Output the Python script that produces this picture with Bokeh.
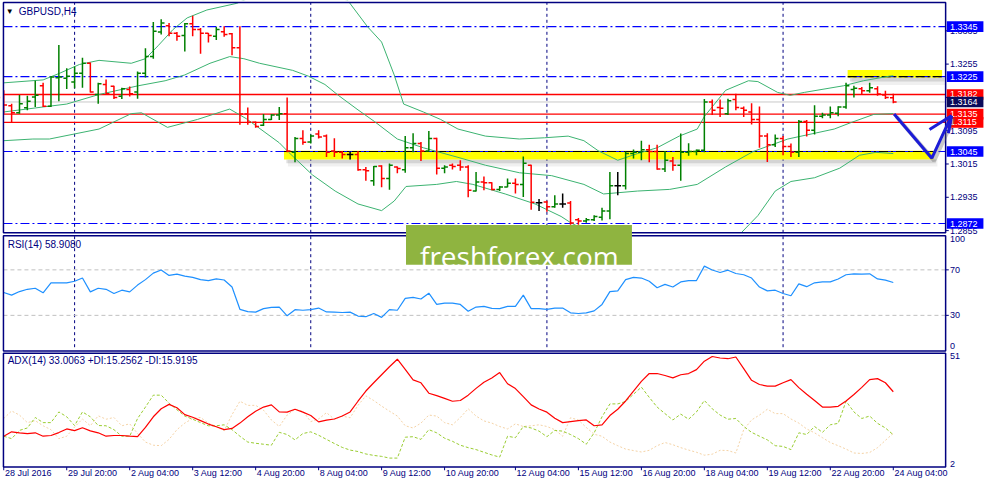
from bokeh.plotting import figure
from bokeh.models import Range1d, ColumnDataSource
from bokeh.core.properties import value
from bokeh.embed import file_html
from bokeh.resources import INLINE

# ---------------- data ----------------
bar_open = [1.3175, 1.3155, 1.3138, 1.3150, 1.3176, 1.3203, 1.3154, 1.3222, 1.3221, 1.3212,
            1.3233, 1.3257, 1.3182, 1.3206, 1.3202, 1.3178, 1.3194, 1.3188, 1.3233, 1.3273,
            1.3332, 1.3347, 1.3329, 1.3324, 1.3352, 1.3338, 1.3329, 1.3322, 1.3333, 1.3328,
            1.3294, 1.3135, 1.3115, 1.3108, 1.3122, 1.3133, 1.3136, 1.3043, 1.3076, 1.3068,
            1.3087, 1.3082, 1.3046, 1.3043, 1.3038, 1.3038, 1.3001, 1.2975, 1.3010, 1.2980,
            1.3008, 1.3001, 1.3054, 1.3064, 1.3046, 1.3076, 1.3005, 1.3012, 1.3012, 1.3008,
            1.2950, 1.2972, 1.2970, 1.2954, 1.2960, 1.2969, 1.2966, 1.3012, 1.2922, 1.2924,
            1.2912, 1.2919, 1.2921, 1.2881, 1.2878, 1.2881, 1.2887, 1.2902, 1.2963, 1.2963,
            1.3040, 1.3043, 1.3049, 1.3045, 1.3003, 1.3022, 1.3012, 1.3043, 1.3045, 1.3048,
            1.3164, 1.3151, 1.3136, 1.3170, 1.3149, 1.3140, 1.3122, 1.3082, 1.3061, 1.3076,
            1.3057, 1.3043, 1.3117, 1.3096, 1.3130, 1.3133, 1.3137, 1.3152, 1.3194, 1.3196,
            1.3191, 1.3196, 1.3181, 1.3174]
bar_high = [1.3192, 1.3160, 1.3181, 1.3179, 1.3215, 1.3210, 1.3226, 1.3301, 1.3245, 1.3249,
            1.3270, 1.3259, 1.3210, 1.3218, 1.3203, 1.3198, 1.3201, 1.3237, 1.3293, 1.3356,
            1.3363, 1.3354, 1.3332, 1.3354, 1.3371, 1.3342, 1.3330, 1.3344, 1.3346, 1.3330,
            1.3346, 1.3151, 1.3117, 1.3135, 1.3135, 1.3152, 1.3175, 1.3080, 1.3096, 1.3086,
            1.3096, 1.3086, 1.3077, 1.3046, 1.3045, 1.3046, 1.3008, 1.3010, 1.3012, 1.3016,
            1.3009, 1.3082, 1.3089, 1.3068, 1.3094, 1.3078, 1.3012, 1.3016, 1.3024, 1.3012,
            1.2996, 1.2985, 1.2971, 1.2962, 1.2980, 1.2980, 1.3033, 1.3013, 1.2931, 1.2927,
            1.2940, 1.2944, 1.2926, 1.2885, 1.2885, 1.2892, 1.2910, 1.2996, 1.2996, 1.3045,
            1.3050, 1.3071, 1.3061, 1.3061, 1.3046, 1.3032, 1.3088, 1.3065, 1.3050, 1.3171,
            1.3170, 1.3170, 1.3172, 1.3184, 1.3153, 1.3161, 1.3153, 1.3089, 1.3086, 1.3082,
            1.3064, 1.3121, 1.3121, 1.3156, 1.3138, 1.3153, 1.3154, 1.3210, 1.3203, 1.3200,
            1.3210, 1.3202, 1.3191, 1.3184]
bar_low = [1.3136, 1.3115, 1.3136, 1.3144, 1.3152, 1.3152, 1.3152, 1.3166, 1.3195, 1.3197,
           1.3198, 1.3187, 1.3160, 1.3181, 1.3171, 1.3171, 1.3177, 1.3172, 1.3223, 1.3268,
           1.3326, 1.3322, 1.3311, 1.3285, 1.3322, 1.3280, 1.3307, 1.3313, 1.3321, 1.3276,
           1.3109, 1.3109, 1.3102, 1.3106, 1.3121, 1.3121, 1.3043, 1.3019, 1.3061, 1.3064,
           1.3076, 1.3032, 1.3032, 1.3028, 1.3026, 1.2999, 1.2975, 1.2963, 1.2959, 1.2953,
           1.2993, 1.2994, 1.3043, 1.3022, 1.3045, 1.2990, 1.2993, 1.3002, 1.2999, 1.2935,
           1.2949, 1.2952, 1.2952, 1.2950, 1.2959, 1.2944, 1.2936, 1.2905, 1.2902, 1.2900,
           1.2910, 1.2910, 1.2869, 1.2869, 1.2874, 1.2878, 1.2879, 1.2882, 1.2940, 1.2954,
           1.3028, 1.3024, 1.3019, 1.3001, 1.2996, 1.2999, 1.2975, 1.3035, 1.3036, 1.3043,
           1.3133, 1.3128, 1.3133, 1.3144, 1.3128, 1.3110, 1.3054, 1.3020, 1.3056, 1.3036,
           1.3032, 1.3032, 1.3081, 1.3086, 1.3125, 1.3125, 1.3130, 1.3148, 1.3175, 1.3182,
           1.3186, 1.3179, 1.3171, 1.3161]
bar_close = [1.3157, 1.3138, 1.3160, 1.3166, 1.3180, 1.3154, 1.3224, 1.3224, 1.3226, 1.3233,
             1.3257, 1.3188, 1.3208, 1.3184, 1.3175, 1.3196, 1.3184, 1.3233, 1.3273, 1.3334,
             1.3354, 1.3329, 1.3322, 1.3352, 1.3338, 1.3329, 1.3324, 1.3338, 1.3326, 1.3294,
             1.3135, 1.3115, 1.3105, 1.3122, 1.3133, 1.3136, 1.3046, 1.3076, 1.3067, 1.3082,
             1.3080, 1.3043, 1.3043, 1.3038, 1.3038, 1.3001, 1.2999, 1.3009, 1.2980, 1.3012,
             1.3004, 1.3054, 1.3064, 1.3046, 1.3076, 1.3005, 1.3008, 1.3009, 1.3008, 1.2952,
             1.2972, 1.2970, 1.2954, 1.2960, 1.2969, 1.2966, 1.3017, 1.2923, 1.2922, 1.2912,
             1.2919, 1.2919, 1.2873, 1.2878, 1.2881, 1.2889, 1.2902, 1.2963, 1.2963, 1.3040,
             1.3043, 1.3049, 1.3045, 1.3003, 1.3024, 1.3012, 1.3043, 1.3045, 1.3048, 1.3164,
             1.3144, 1.3149, 1.3167, 1.3151, 1.3144, 1.3122, 1.3082, 1.3061, 1.3076, 1.3057,
             1.3043, 1.3117, 1.3096, 1.3130, 1.3133, 1.3138, 1.3152, 1.3203, 1.3197, 1.3191,
             1.3198, 1.3183, 1.3175, 1.3164]

band_upper_x = [0, 5.0, 7.1, 9.6, 12.1, 16.2, 18.0, 19.6, 21.5, 23.3, 25.8, 29.6, 33.3, 37.1, 40.8,
                43.7, 46.2, 48.0, 49.6, 50.8, 53.3, 55.5, 57.7, 61.2, 65.5, 68.7, 71.7, 73.7, 75.5,
                78.0, 80.5, 83.0, 85.8, 88.1, 89.0, 91.7, 94.6, 95.8, 98.3, 99.9, 101.7, 106.7,
                109.2, 112.5, 113.0]
band_upper = [1.3210, 1.3217, 1.3233, 1.3254, 1.3264, 1.3257, 1.3268, 1.3299, 1.3338, 1.3366,
              1.3385, 1.3401, 1.3431, 1.3443, 1.3426, 1.3408, 1.3345, 1.3308, 1.3229, 1.3159,
              1.3140, 1.3122, 1.3099, 1.3082, 1.3075, 1.3078, 1.3082, 1.3071, 1.3047, 1.3024,
              1.3040, 1.3054, 1.3082, 1.3099, 1.3129, 1.3192, 1.3215, 1.3213, 1.3187, 1.3180,
              1.3187, 1.3203, 1.3215, 1.3226, 1.3227]
band_mid_x = [0, 5.0, 8.0, 12.1, 17.1, 20.5, 23.0, 26.2, 28.7, 30.5, 32.5, 36.7, 38.7, 40.8, 42.5,
              45.0, 47.1, 50.0, 53.3, 57.7, 61.2, 65.5, 69.6, 73.7, 76.2, 80.5, 84.6, 88.1, 91.7,
              95.2, 99.6, 105.5, 107.7, 110.5, 113.0]
band_mid = [1.3140, 1.3152, 1.3159, 1.3182, 1.3203, 1.3215, 1.3229, 1.3257, 1.3273, 1.3268,
            1.3257, 1.3240, 1.3226, 1.3206, 1.3180, 1.3145, 1.3117, 1.3075, 1.3054, 1.3031,
            1.3012, 1.2994, 1.2987, 1.2966, 1.2943, 1.2950, 1.2954, 1.2966, 1.3008, 1.3045,
            1.3075, 1.3099, 1.3115, 1.3134, 1.3136]
band_low_x = [0, 3.7, 5.8, 12.1, 16.2, 17.5, 20.8, 24.6, 28.7, 30.8, 35.0, 36.2, 39.2, 42.1, 45.0,
              48.0, 49.6, 51.1, 55.0, 57.5, 59.6, 63.7, 67.5, 70.8, 72.1, 75.8, 80.8, 87.1, 92.1,
              93.7, 95.8, 98.0, 100.0, 103.0, 106.2, 108.7, 110.8, 113.0]
band_low = [1.3071, 1.3075, 1.3075, 1.3099, 1.3136, 1.3138, 1.3103, 1.3122, 1.3147, 1.3124,
            1.3066, 1.3043, 1.2989, 1.2950, 1.2919, 1.2903, 1.2926, 1.2961, 1.2966, 1.2973,
            1.2966, 1.2943, 1.2919, 1.2889, 1.2873, 1.2838, 1.2808, 1.2799, 1.2822, 1.2850,
            1.2891, 1.2950, 1.2973, 1.2982, 1.3005, 1.3036, 1.3043, 1.3040]

rsi = [50.1, 47.8, 50.9, 52.9, 53.8, 49.8, 58.6, 58.6, 58.6, 60.0,
       62.8, 50.6, 53.8, 52.9, 49.2, 52.1, 50.6, 56.6, 61.4, 67.1,
       69.9, 65.1, 66.2, 64.5, 63.4, 61.4, 60.6, 62.0, 61.1, 54.9,
       35.3, 33.3, 32.8, 35.9, 37.0, 37.3, 29.6, 35.0, 34.5, 35.0,
       36.4, 33.0, 32.8, 32.5, 32.8, 29.4, 28.8, 31.6, 28.2, 35.0,
       34.5, 44.9, 45.8, 44.4, 49.5, 39.6, 40.7, 40.7, 39.6, 33.6,
       37.3, 37.9, 36.2, 35.9, 37.9, 37.9, 47.8, 35.9, 35.9, 35.3,
       36.4, 36.4, 32.2, 31.6, 32.2, 33.9, 39.6, 50.9, 51.5, 61.4,
       63.4, 62.8, 60.0, 54.3, 57.2, 54.9, 59.4, 60.6, 60.6, 73.3,
       69.9, 67.7, 69.7, 66.8, 65.7, 62.8, 54.9, 51.5, 52.1, 49.2,
       47.2, 57.7, 55.2, 58.6, 59.4, 59.4, 62.0, 65.7, 66.5, 66.2,
       66.5, 62.0, 60.9, 58.9]
adx = [14.7, 16.5, 16.1, 15.8, 16.1, 14.7, 15.0, 16.2, 17.7, 17.0,
       18.2, 16.9, 16.1, 14.7, 15.0, 15.0, 14.7, 14.5, 18.3, 22.7,
       26.0, 27.8, 26.4, 23.6, 22.5, 21.1, 19.7, 18.6, 17.4, 17.9,
       20.1, 22.7, 25.0, 26.7, 27.6, 24.7, 24.6, 25.8, 24.6, 23.2,
       20.6, 21.3, 21.8, 23.0, 24.7, 29.1, 33.3, 36.7, 40.0, 43.3,
       46.4, 42.2, 37.9, 36.7, 32.4, 31.4, 30.3, 29.1, 29.4, 31.6,
       34.4, 36.9, 38.7, 40.9, 36.3, 34.3, 31.0, 27.6, 25.9, 24.6,
       22.1, 20.3, 20.7, 21.1, 21.4, 19.0, 19.4, 23.2, 25.8, 29.2,
       33.3, 37.3, 40.5, 40.5, 39.7, 38.7, 40.0, 40.5, 42.1, 45.6,
       47.5, 46.9, 46.6, 47.3, 42.5, 37.7, 36.0, 35.3, 35.3, 36.7,
       38.0, 34.7, 32.0, 29.4, 26.7, 26.7, 27.0, 29.2, 31.9, 34.8,
       38.0, 38.4, 36.7, 33.0]
plus_di = [14.7, 13.7, 17.1, 18.1, 22.4, 20.3, 20.3, 24.7, 22.7, 19.1,
           24.7, 22.7, 19.1, 19.0, 17.4, 14.7, 14.7, 22.0, 26.7, 31.6,
           31.6, 28.3, 25.6, 23.0, 21.7, 20.3, 19.0, 19.0, 19.4, 17.4,
           14.7, 12.3, 11.8, 11.4, 11.0, 16.3, 15.4, 13.2, 15.8, 16.5,
           15.1, 13.4, 11.7, 10.1, 9.0, 8.4, 7.4, 6.8, 6.4, 5.7,
           5.7, 14.3, 14.5, 13.4, 17.4, 16.1, 13.9, 12.6, 11.0, 10.0,
           9.2, 8.1, 7.0, 6.1, 14.7, 14.1, 18.7, 18.1, 16.8, 14.5,
           17.1, 16.8, 15.4, 13.7, 11.4, 16.1, 22.7, 28.0, 28.0, 29.0,
           32.0, 34.9, 30.7, 26.7, 24.0, 21.4, 23.8, 21.7, 24.7, 29.4,
           26.0, 23.4, 21.7, 22.0, 18.7, 16.3, 14.7, 13.2, 10.8, 10.5,
           9.2, 16.1, 15.4, 18.7, 16.3, 19.4, 20.0, 29.1, 24.7, 22.0,
           23.0, 20.0, 18.1, 15.3]
minus_di = [22.0, 25.1, 23.4, 20.3, 21.1, 19.0, 17.4, 13.7, 14.7, 18.5,
            21.8, 19.0, 23.1, 21.7, 22.4, 19.0, 19.8, 15.8, 12.3, 11.0,
            10.8, 13.4, 17.4, 20.1, 22.0, 22.4, 20.1, 18.7, 17.0, 23.6,
            29.1, 27.4, 27.4, 25.4, 21.4, 18.7, 23.4, 25.8, 25.0, 20.7,
            21.8, 24.4, 21.7, 23.0, 22.3, 27.4, 31.3, 29.4, 27.1, 25.0,
            23.0, 19.0, 18.1, 20.1, 23.4, 23.0, 20.3, 19.4, 22.4, 26.0,
            23.0, 21.0, 20.1, 18.7, 17.7, 19.8, 18.7, 19.0, 19.4, 18.7,
            17.4, 14.7, 22.3, 21.4, 18.3, 15.5, 14.7, 12.3, 10.8, 9.4,
            8.8, 8.2, 8.9, 10.8, 12.1, 11.2, 10.0, 9.0, 8.1, 6.9,
            7.3, 8.9, 8.8, 7.8, 17.4, 21.4, 23.4, 25.8, 24.0, 24.0,
            21.8, 20.1, 17.7, 16.1, 14.1, 12.1, 10.8, 9.4, 7.8, 7.6,
            8.0, 10.0, 13.0, 15.9]

x_tick_pos = [0, 8, 16, 24, 32, 40, 48, 56, 65, 73, 81, 89, 97, 105, 113]
x_tick_labels = ["28 Jul 2016", "29 Jul 20:00", "2 Aug 04:00", "3 Aug 12:00", "4 Aug 20:00",
                 "8 Aug 04:00", "9 Aug 12:00", "10 Aug 20:00", "12 Aug 04:00", "15 Aug 12:00",
                 "16 Aug 20:00", "18 Aug 04:00", "19 Aug 12:00", "22 Aug 20:00", "24 Aug 04:00"]
week_starts = [9, 39, 69, 99]
price_ticks = [1.2855, 1.2935, 1.3015, 1.3095, 1.3175, 1.3255, 1.3335]

blue_levels = [1.3345, 1.3225, 1.3045, 1.2872]
red_levels = [1.3182, 1.3135, 1.3115]
bid_level = 1.3164

zone_left = [35.6, 107.2]
zone_right = [118.1, 119.2]
zone_top = [1.3047, 1.3241]
zone_bottom = [1.3026, 1.3222]
zone_edge = [1.3045, 1.3225]

arrow_x = [113.1, 117.9, 120.4]
arrow_y = [1.3135, 1.3029, 1.3131]
arrow_head_xs = [[117.6, 120.4], [120.0, 120.4]]
arrow_head_ys = [[1.3098, 1.3131], [1.3089, 1.3131]]

rsi_levels = [70, 30]
rsi_scale_labels = ["100", "70", "30", "0"]
adx_scale_labels = ["51", "2"]

# ---------------- layout constants ----------------
NAVY = "#000080"
BLUE = "#0000ff"
RED = "#ff0000"
BAND = "#3cb371"
FONT = "Liberation Sans"

X_START, X_END = -0.4125, 124.5875        # full canvas width in bar units
X_LEFT, X_RIGHT = -0.0375, 119.65          # chart frame (price scale on the right)
MAIN_LO, MAIN_HI = 1.2245, 1.34078         # full canvas height in price units
MAIN_TOP, MAIN_BOTTOM = 1.34031, 1.28497
RSI_LO, RSI_HI = -118.72, 306.81
RSI_TOP, RSI_BOTTOM = 100.0, -1.3
ADX_LO, ADX_HI = -5.17, 194.03
ADX_TOP, ADX_BOTTOM = 48.8, 2.0

p = figure(width=984, height=484, output_backend="svg", toolbar_location=None,
           x_range=Range1d(X_START, X_END), y_range=Range1d(MAIN_LO, MAIN_HI),
           x_axis_location=None, y_axis_location=None,
           min_border_left=0, min_border_right=0, min_border_top=0, min_border_bottom=0,
           background_fill_color="white", border_fill_color="white", outline_line_color=None)
p.extra_y_ranges = {"rsi": Range1d(RSI_LO, RSI_HI), "adx": Range1d(ADX_LO, ADX_HI)}
p.xgrid.visible = False
p.ygrid.visible = False

# ---------- main price panel ----------
p.segment(x0=week_starts, x1=week_starts, y0=[MAIN_BOTTOM] * 4, y1=[MAIN_TOP] * 4,
          line_color=NAVY, line_dash="3 3", line_width=1)

# yellow zones with soft shadow
p.quad(left=[l + 0.5 for l in zone_left], right=[r + 0.5 for r in zone_right],
       top=zone_bottom, bottom=[b - 0.0017 for b in zone_bottom],
       fill_color="#808080", fill_alpha=0.12, line_color=None)
p.quad(left=[l + 0.3 for l in zone_left], right=[r + 0.3 for r in zone_right],
       top=zone_bottom, bottom=[b - 0.0009 for b in zone_bottom],
       fill_color="#707070", fill_alpha=0.22, line_color=None)
p.quad(left=zone_left, right=zone_right, top=zone_top, bottom=zone_bottom,
       fill_color="#ffff00", line_color=None)

# horizontal levels
n_b = len(blue_levels)
p.segment(x0=[X_LEFT] * n_b, x1=[X_RIGHT] * n_b, y0=blue_levels, y1=blue_levels,
          line_color=BLUE, line_dash="9 3 2 3", line_width=1.2)
p.segment(x0=zone_left, x1=zone_right, y0=zone_edge, y1=zone_edge,
          line_color="#000000", line_dash="9 3 2 3", line_width=1.2)
n_r = len(red_levels)
p.segment(x0=[X_LEFT] * n_r, x1=[X_RIGHT] * n_r, y0=red_levels, y1=red_levels,
          line_color=RED, line_width=1.3)
p.segment(x0=[X_LEFT], x1=[X_RIGHT], y0=[bid_level], y1=[bid_level],
          line_color="#c8c8c8", line_width=1)

# bands
p.line(band_upper_x, band_upper, line_color=BAND, line_width=1)
p.line(band_mid_x, band_mid, line_color=BAND, line_width=1)
p.line(band_low_x, band_low, line_color=BAND, line_width=1)

# OHLC bars
idx = list(range(len(bar_open)))
cols = []
for o, c in zip(bar_open, bar_close):
    cols.append("#008000" if c > o else (RED if c < o else "#000000"))
src = ColumnDataSource(dict(x=idx, xl=[i - 0.42 for i in idx], xr=[i + 0.42 for i in idx],
                            o=bar_open, h=bar_high, l=bar_low, c=bar_close, col=cols))
p.segment(x0="x", y0="l", x1="x", y1="h", line_color="col", line_width=1.5, source=src)
p.segment(x0="xl", y0="o", x1="x", y1="o", line_color="col", line_width=1.5, source=src)
p.segment(x0="x", y0="c", x1="xr", y1="c", line_color="col", line_width=1.5, source=src)

# ---------- masks (clip the price panel) ----------
p.quad(left=[X_START - 1], right=[X_END + 1], top=[MAIN_BOTTOM], bottom=[MAIN_LO - 0.01],
       fill_color="white", line_color=None)
p.quad(left=[X_START - 1], right=[X_END + 1], top=[MAIN_HI + 0.01], bottom=[MAIN_TOP],
       fill_color="white", line_color=None)
p.quad(left=[X_START - 1], right=[X_LEFT], top=[MAIN_HI + 0.01], bottom=[MAIN_LO - 0.01],
       fill_color="white", line_color=None)

# lower-panel grid
p.segment(x0=week_starts, x1=week_starts, y0=[ADX_BOTTOM] * 4, y1=[RSI_TOP] * 4,
          line_color=NAVY, line_dash="3 3", line_width=1, y_range_name="rsi")

# ---------- RSI panel ----------
p.segment(x0=[X_LEFT, X_LEFT], x1=[X_RIGHT, X_RIGHT], y0=rsi_levels, y1=rsi_levels,
          line_color="#c0c0c0", line_dash="4 3", line_width=1, y_range_name="rsi")
p.line(idx, rsi, line_color="#1e90ff", line_width=1.2, y_range_name="rsi")

# ---------- ADX panel ----------
p.line(idx, minus_di, line_color="#f5d3a6", line_dash="2 2", line_width=1, y_range_name="adx")
p.line(idx, plus_di, line_color="#9acd32", line_dash="3 2", line_width=1, y_range_name="adx")
p.line(idx, adx, line_color=RED, line_width=1.2, y_range_name="adx")

# ---------- panel frames ----------
frame_kw = dict(fill_color=None, line_color=NAVY, line_width=1.5)
p.quad(left=[X_LEFT], right=[X_RIGHT], top=[MAIN_TOP], bottom=[MAIN_BOTTOM], **frame_kw)
p.quad(left=[X_LEFT], right=[X_RIGHT], top=[RSI_TOP], bottom=[RSI_BOTTOM], y_range_name="rsi",
       **frame_kw)
p.quad(left=[X_LEFT], right=[X_RIGHT], top=[ADX_TOP], bottom=[ADX_BOTTOM], y_range_name="adx",
       **frame_kw)

# ---------- logo ----------
p.quad(left=[51.1], right=[79.8], top=[109.4], bottom=[74.5], fill_color="#8fb440",
       line_color=None, y_range_name="rsi")
p.text(x=[65.5], y=[82.5], text=["freshforex.com"], y_range_name="rsi",
       text_font=value("Open Sans"), text_font_size="28px", text_color="white",
       text_align="center", text_baseline="alphabetic")

# ---------- titles ----------
p.text(x=[0.75], y=[1.3382], text=["▼"], text_font=value(FONT), text_font_size="8px",
       text_color="#000000", text_align="center", text_baseline="middle")
p.text(x=[1.9], y=[1.3382], text=["GBPUSD,H4"], text_font=value(FONT), text_font_size="10px",
       text_color=NAVY, text_baseline="middle")
p.text(x=[0.5], y=[92.6], y_range_name="rsi", text=["RSI(14) 58.9080"], text_font=value(FONT),
       text_font_size="10px", text_color=NAVY, text_baseline="middle")
p.text(x=[0.5], y=[45.9], y_range_name="adx", text=["ADX(14) 33.0063 +DI:15.2562 -DI:15.9195"],
       text_font=value(FONT), text_font_size="10px", text_color=NAVY, text_baseline="middle")

# ---------- price scale (right) ----------
n_t = len(price_ticks)
p.segment(x0=[X_RIGHT] * n_t, x1=[X_RIGHT + 0.4] * n_t, y0=price_ticks, y1=price_ticks,
          line_color=NAVY, line_width=1)
p.text(x=[X_RIGHT + 0.55] * n_t, y=price_ticks, text=["%.4f" % t for t in price_ticks],
       text_font=value(FONT), text_font_size="9px", text_color=NAVY, text_baseline="middle")

flags = [(1.3345, BLUE), (1.3225, BLUE), (1.3182, RED), (bid_level, "#0a0a5a"),
         (1.3135, RED), (1.3115, RED), (1.3045, BLUE), (1.2872, BLUE)]
for val, bg in flags:
    p.quad(left=[X_RIGHT + 0.15], right=[X_RIGHT + 4.8], top=[val + 0.00128],
           bottom=[val - 0.00128], fill_color=bg, line_color=None)
    p.text(x=[X_RIGHT + 0.55], y=[val], text=["%.4f" % val], text_font=value(FONT),
           text_font_size="9px", text_color="white", text_baseline="middle")

# RSI / ADX scales
rsi_pos = [(RSI_TOP, "top"), (70, "middle"), (30, "middle"), (0, "bottom")]
for lab, (yv, base) in zip(rsi_scale_labels, rsi_pos):
    p.text(x=[X_RIGHT + 0.55], y=[yv], y_range_name="rsi", text=[lab], text_font=value(FONT),
           text_font_size="9px", text_color=NAVY, text_baseline=base)
p.segment(x0=[X_RIGHT] * 2, x1=[X_RIGHT + 0.4] * 2, y0=rsi_levels, y1=rsi_levels,
          line_color=NAVY, y_range_name="rsi")
adx_pos = [(ADX_TOP, "top"), (ADX_BOTTOM, "bottom")]
for lab, (yv, base) in zip(adx_scale_labels, adx_pos):
    p.text(x=[X_RIGHT + 0.55], y=[yv], y_range_name="adx", text=[lab], text_font=value(FONT),
           text_font_size="9px", text_color=NAVY, text_baseline=base)

# ---------- time scale (bottom) ----------
n_x = len(x_tick_pos)
p.segment(x0=x_tick_pos, x1=x_tick_pos, y0=[ADX_BOTTOM] * n_x, y1=[ADX_BOTTOM - 1.3] * n_x,
          line_color=NAVY, y_range_name="adx")
p.text(x=[t + 0.15 for t in x_tick_pos], y=[ADX_BOTTOM - 2.4] * n_x, text=x_tick_labels,
       y_range_name="adx", text_font=value(FONT), text_font_size="9px", text_color=NAVY,
       text_align="left", text_baseline="middle")

# ---------- hand-drawn arrow (on top of the price flags, as in the original) ----------
p.line([x + 0.3 for x in arrow_x], [y - 0.0006 for y in arrow_y],
       line_color="#606060", line_alpha=0.35, line_width=4)
p.line(arrow_x, arrow_y, line_color="#1c1cd6", line_width=3)
p.multi_line(arrow_head_xs, arrow_head_ys, line_color="#1c1cd6", line_width=3)

open("out.html", "w").write(file_html(p, INLINE))
